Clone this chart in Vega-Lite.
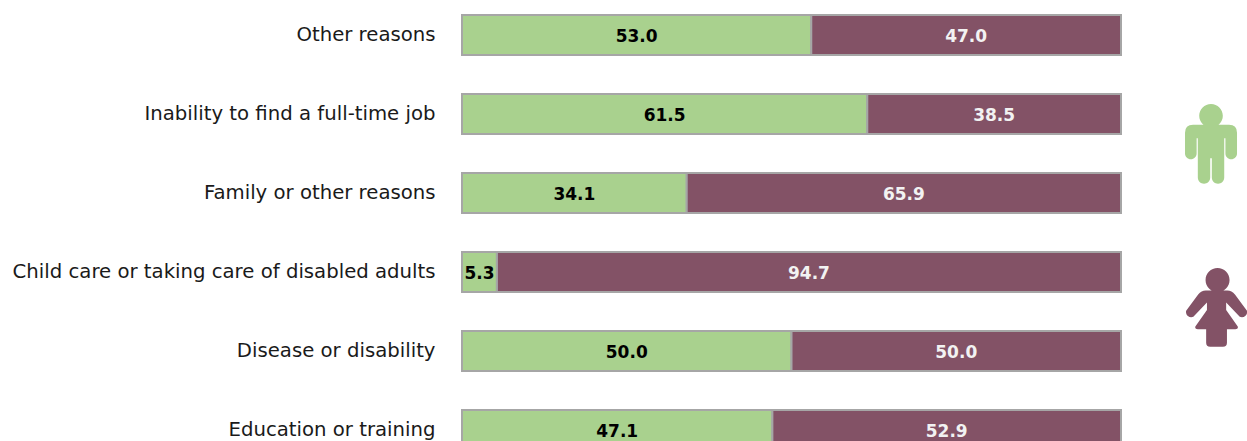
{"$schema":"https://vega.github.io/schema/vega-lite/v6.json","width":659,"height":441,"autosize":{"type":"none"},"padding":{"left":462,"top":0,"right":126,"bottom":0},"background":"white","view":{"stroke":null},"resolve":{"scale":{"y":"independent"}},"layer":[{"data":{"values":[{"reason":"Other reasons","sex":"Male","share":53.0},{"reason":"Other reasons","sex":"Female","share":47.0},{"reason":"Inability to find a full-time job","sex":"Male","share":61.5},{"reason":"Inability to find a full-time job","sex":"Female","share":38.5},{"reason":"Family or other reasons","sex":"Male","share":34.1},{"reason":"Family or other reasons","sex":"Female","share":65.9},{"reason":"Child care or taking care of disabled adults","sex":"Male","share":5.3},{"reason":"Child care or taking care of disabled adults","sex":"Female","share":94.7},{"reason":"Disease or disability","sex":"Male","share":50.0},{"reason":"Disease or disability","sex":"Female","share":50.0},{"reason":"Education or training","sex":"Male","share":47.1},{"reason":"Education or training","sex":"Female","share":52.9}]},"encoding":{"y":{"field":"reason","type":"nominal","sort":null,"title":null,"scale":{"range":[-4.5,469.5],"paddingInner":0.494,"paddingOuter":0.247},"axis":{"domain":false,"ticks":false,"labelFont":"DejaVu Sans","labelFontSize":19.7,"labelColor":"#1a1a1a","labelLimit":500,"labelPadding":27}}},"resolve":{"scale":{"color":"independent"}},"layer":[{"mark":{"type":"bar","stroke":"#A6A6A6","strokeWidth":2},"encoding":{"x":{"field":"share","type":"quantitative","stack":"zero","scale":{"domain":[0,100],"nice":false,"zero":true},"axis":null},"color":{"field":"sex","type":"nominal","scale":{"domain":["Male","Female"],"range":["#A9D18E","#835266"]},"legend":null},"order":{"field":"sex","sort":"descending"}}},{"mark":{"type":"text","font":"DejaVu Sans","fontWeight":"bold","fontSize":17,"dy":1.5},"encoding":{"x":{"field":"share","type":"quantitative","stack":"zero","bandPosition":0.5,"scale":{"domain":[0,100],"nice":false,"zero":true},"axis":null},"text":{"field":"share","type":"quantitative","format":".1f"},"order":{"field":"sex","sort":"descending"},"color":{"field":"sex","type":"nominal","scale":{"domain":["Male","Female"],"range":["#000000","#f2f2f2"]},"legend":null}}}]},{"data":{"values":[{"icon":"man","across":113.66,"down":143.5},{"icon":"woman","across":114.5,"down":308}]},"transform":[{"filter":"datum.icon=='man'"}],"mark":{"type":"point","filled":true,"opacity":1,"fill":"#A9D18E","stroke":null,"size":6400,"shape":"M-.295,-.695A.295,.295 0 1 1 .295,-.695A.295,.295 0 1 1 -.295,-.695ZM-.45,-.47L.45,-.47Q.65,-.47 .65,-.27L.65,.25A.145,.145 0 0 1 .36,.25L.36,-.13L.33,-.13L.33,.85A.155,.155 0 0 1 .02,.85L.02,.37L-.02,.37L-.02,.85A.155,.155 0 0 1 -.33,.85L-.33,-.13L-.36,-.13L-.36,.25A.145,.145 0 0 1 -.65,.25L-.65,-.27Q-.65,-.47 -.45,-.47Z"},"encoding":{"x":{"field":"across","type":"quantitative","scale":{"domain":[0,100],"nice":false},"axis":null},"y":{"field":"down","type":"quantitative","scale":{"domain":[0,441],"range":[0,441],"nice":false,"zero":false},"axis":null}}},{"data":{"values":[{"icon":"man","across":113.66,"down":143.5},{"icon":"woman","across":114.5,"down":308}]},"transform":[{"filter":"datum.icon=='woman'"}],"mark":{"type":"point","filled":true,"opacity":1,"fill":"#835266","stroke":null,"size":6400,"shape":"M-.275,-.7A.3,.3 0 1 1 .325,-.7A.3,.3 0 1 1 -.275,-.7ZM-.27,-.44L.27,-.44Q.38,-.44 .46,-.34L.76,.07A.13,.13 0 0 1 .58,.22L.24,-.14L.24,.05L.53,.46Q.55,.53 .47,.53L.26,.53L.26,.87Q.26,.97 .16,.97L-.16,.97Q-.26,.97 -.26,.87L-.26,.53L-.47,.53Q-.55,.53 -.53,.46L-.24,.05L-.24,-.14L-.58,.22A.13,.13 0 0 1 -.76,.07L-.46,-.34Q-.38,-.44 -.27,-.44Z"},"encoding":{"x":{"field":"across","type":"quantitative","scale":{"domain":[0,100],"nice":false},"axis":null},"y":{"field":"down","type":"quantitative","scale":{"domain":[0,441],"range":[0,441],"nice":false,"zero":false},"axis":null}}}]}
